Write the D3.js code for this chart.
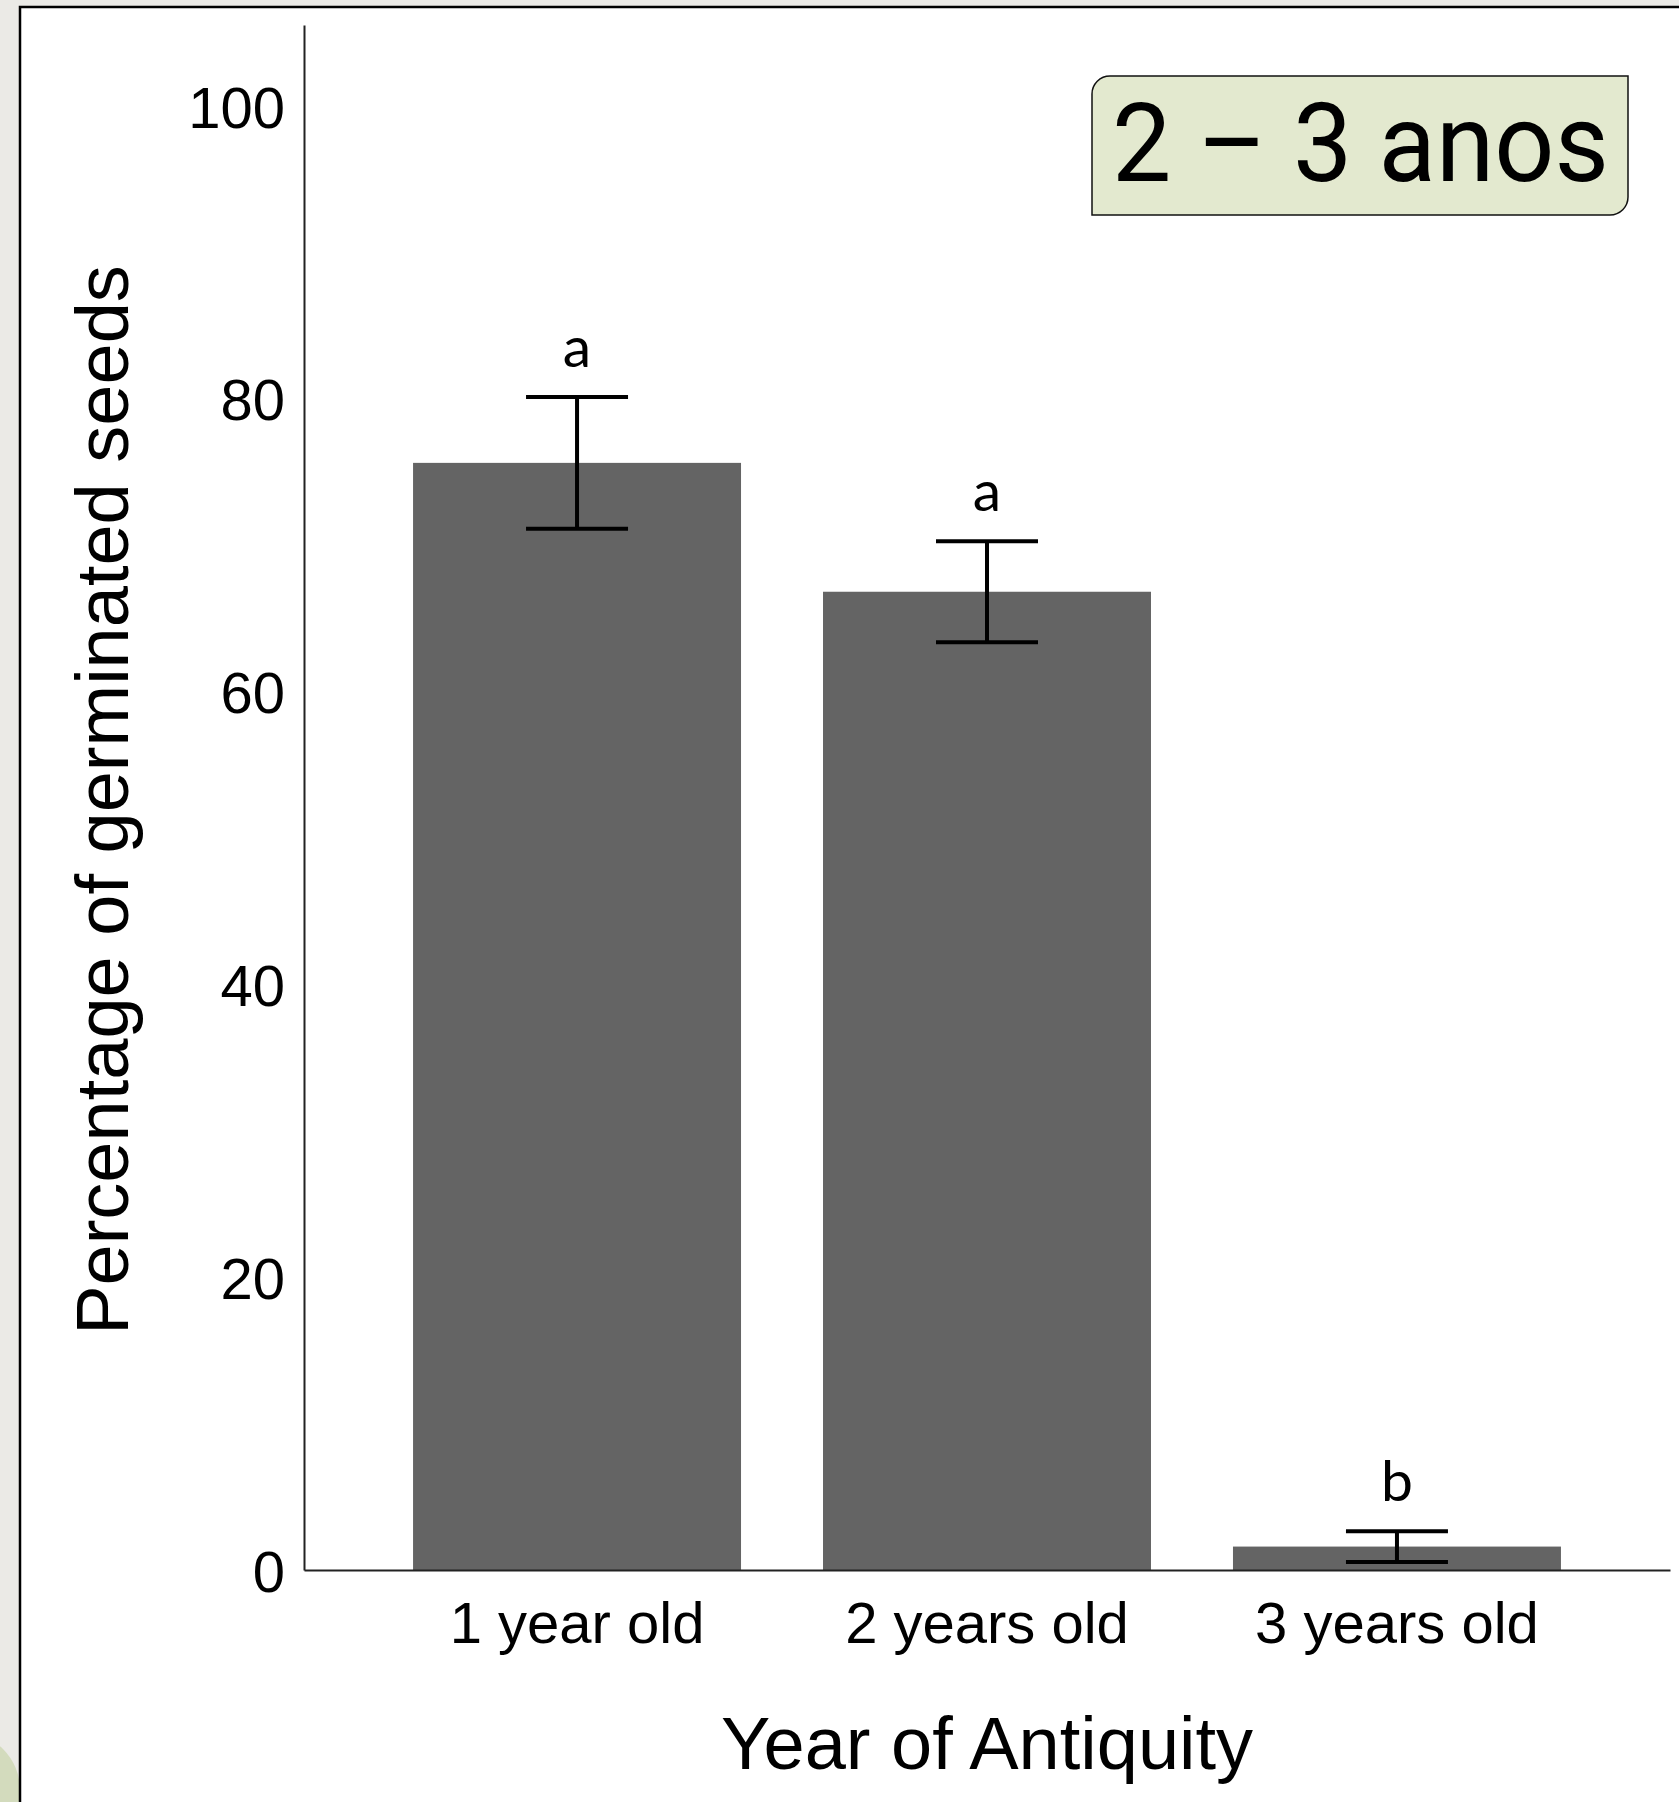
<!DOCTYPE html>
<html>
<head>
<meta charset="utf-8">
<script src="https://cdn.jsdelivr.net/npm/d3@7"></script>
<style>
  body { margin: 0; background: #ebeae6; }
  svg { display: block; }
</style>
</head>
<body>
<svg width="1679" height="1802"></svg>
<script>
// values
var categories = ["1 year old", "2 years old", "3 years old"];
var means = [75.6, 66.8, 1.6];
var errors = [4.5, 3.45, 1.05];
var letters = ["a", "a", "b"];
var yTicks = [0, 20, 40, 60, 80, 100];

var rows = categories.map(function (c, i) {
  return { cat: c, mean: means[i], err: errors[i], letter: letters[i] };
});

var svg = d3.select("svg");

// slide decoration bits
svg.append("circle")
  .attr("cx", -38)
  .attr("cy", 1790)
  .attr("r", 58)
  .attr("fill", "#d3dbbd");

// white panel with black frame
svg.append("rect")
  .attr("x", 20)
  .attr("y", 7)
  .attr("width", 1700)
  .attr("height", 1850)
  .attr("fill", "#fff")
  .attr("stroke", "#000")
  .attr("stroke-width", 2.5);

var x = d3
  .scaleBand()
  .domain(categories)
  .range([304, 1670])
  .paddingInner(0.2)
  .paddingOuter(0.266);

var y = d3.scaleLinear().domain([0, 105.5]).range([1570, 25]);

var g = svg.append("g");

// bars
g.selectAll("rect.bar")
  .data(rows)
  .enter()
  .append("rect")
  .attr("class", "bar")
  .attr("x", function (d) {
    return x(d.cat);
  })
  .attr("y", function (d) {
    return y(d.mean);
  })
  .attr("width", x.bandwidth())
  .attr("height", function (d) {
    return y(0) - y(d.mean);
  })
  .attr("fill", "#646464");

// axes, no tick marks
var yAxis = g
  .append("g")
  .attr("transform", "translate(304,0)")
  .call(d3.axisLeft(y).tickValues(yTicks).tickSize(0).tickPadding(19));
yAxis.select(".domain").attr("stroke", "#222").attr("stroke-width", 2);
yAxis.selectAll("text")
  .attr("font-family", "Liberation Sans, Arial, sans-serif")
  .attr("font-size", 58)
  .attr("fill", "#000")
  .attr("dy", "0.37em");

var xAxis = g
  .append("g")
  .attr("transform", "translate(0,1570)")
  .call(d3.axisBottom(x).tickSize(0).tickPadding(0));
xAxis.select(".domain").attr("stroke", "#222").attr("stroke-width", 2);
xAxis.selectAll("text")
  .attr("font-family", "Liberation Sans, Arial, sans-serif")
  .attr("font-size", 58)
  .attr("fill", "#000")
  .attr("dy", null)
  .attr("y", 73);

// error bars
var eb = g.selectAll("g.err")
  .data(rows)
  .enter()
  .append("g")
  .attr("class", "err")
  .attr("stroke", "#000")
  .attr("stroke-width", 4);

eb.append("line")
  .attr("x1", function (d) { return x(d.cat) + x.bandwidth() / 2; })
  .attr("x2", function (d) { return x(d.cat) + x.bandwidth() / 2; })
  .attr("y1", function (d) { return y(d.mean - d.err); })
  .attr("y2", function (d) { return y(d.mean + d.err); });

[-1, 1].forEach(function (s) {
  eb.append("line")
    .attr("x1", function (d) { return x(d.cat) + x.bandwidth() / 2 - 51; })
    .attr("x2", function (d) { return x(d.cat) + x.bandwidth() / 2 + 51; })
    .attr("y1", function (d) { return y(d.mean + s * d.err); })
    .attr("y2", function (d) { return y(d.mean + s * d.err); });
});

// significance letters
g.selectAll("text.letter")
  .data(rows)
  .enter()
  .append("text")
  .attr("class", "letter")
  .attr("x", function (d) { return x(d.cat) + x.bandwidth() / 2; })
  .attr("y", function (d) { return y(d.mean + d.err) - 30; })
  .attr("text-anchor", "middle")
  .attr("font-family", "Lato, sans-serif")
  .attr("font-size", 57)
  .text(function (d) { return d.letter; });

// axis titles
svg.append("text")
  .attr("transform", "translate(128,800) rotate(-90)")
  .attr("text-anchor", "middle")
  .attr("font-family", "Liberation Sans, Arial, sans-serif")
  .attr("font-size", 74)
  .text("Percentage of germinated seeds");

svg.append("text")
  .attr("x", 987)
  .attr("y", 1769)
  .attr("text-anchor", "middle")
  .attr("font-family", "Liberation Sans, Arial, sans-serif")
  .attr("font-size", 74)
  .text("Year of Antiquity");

// "2 – 3 anos" tag, rounded at top-left and bottom-right
var bx = 1092, by = 76, bw = 536, bh = 139, r = 18;
var p = d3.path();
p.moveTo(bx + r, by);
p.lineTo(bx + bw, by);
p.lineTo(bx + bw, by + bh - r);
p.arcTo(bx + bw, by + bh, bx + bw - r, by + bh, r);
p.lineTo(bx, by + bh);
p.lineTo(bx, by + r);
p.arcTo(bx, by, bx + r, by, r);
p.closePath();
svg.append("path")
  .attr("d", p.toString())
  .attr("fill", "#e3e9cf")
  .attr("stroke", "#111")
  .attr("stroke-width", 1.5);

svg.append("text")
  .attr("x", 1112)
  .attr("y", 181)
  .attr("font-family", "Roboto, sans-serif")
  .attr("font-size", 110)
  .attr("textLength", 497)
  .attr("lengthAdjust", "spacingAndGlyphs")
  .text("2 \u2013 3 anos");
</script>
</body>
</html>
